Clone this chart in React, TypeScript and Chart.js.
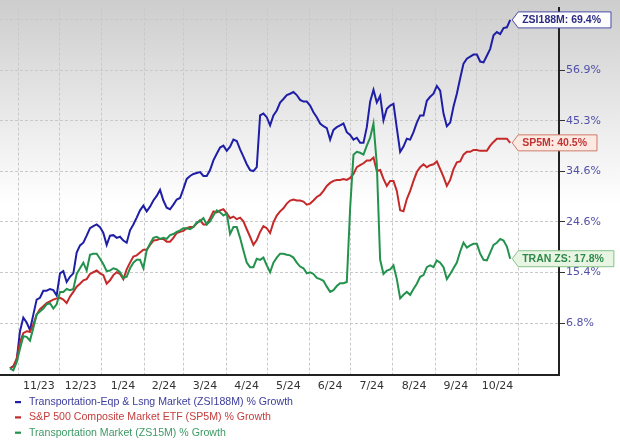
import { useEffect, useRef } from "react";
import { Chart, registerables } from "chart.js";

Chart.register(...registerables);

// % growth, sampled every STEP_DAYS days starting START_DAY days from Nov 1, 2023
const START_DAY = -6.2;
const STEP_DAYS = 2.44;

const zsi188m = [
  -0.3, 0.0, 0.9, 5.5, 7.7, 6.9, 5.7, 8.2, 10.7, 11.0,
  12.2, 12.2, 12.5, 12.3, 11.4, 15.2, 15.6, 13.7, 14.6, 15.2,
  18.9, 20.2, 20.7, 22.0, 23.4, 23.8, 24.1, 23.6, 22.5, 20.3,
  22.0, 22.1, 21.6, 21.8, 21.1, 20.7, 23.0, 24.1, 25.4, 26.8,
  27.7, 26.6, 27.5, 28.7, 29.6, 30.8, 28.7, 27.3, 27.0, 27.9,
  28.9, 29.2, 31.0, 33.0, 33.6, 34.0, 34.2, 34.4, 33.6, 33.6,
  34.8, 36.8, 38.2, 39.5, 39.9, 38.8, 39.7, 41.2, 40.9, 39.1,
  37.6, 36.0, 34.8, 34.6, 35.4, 46.5, 46.9, 46.1, 44.3, 46.5,
  47.6, 49.4, 50.2, 51.1, 51.4, 51.8, 51.1, 50.0, 49.6, 49.6,
  48.7, 47.2, 46.1, 44.7, 44.1, 43.7, 41.2, 43.3, 43.9, 44.3,
  44.7, 42.8, 42.2, 41.2, 41.6, 40.5, 40.5, 43.9, 49.6, 52.3,
  49.4, 50.9, 45.4, 48.0, 48.7, 49.1, 43.7, 38.6, 39.7, 41.4,
  41.2, 42.8, 44.9, 46.5, 46.5, 49.8, 50.7, 51.4, 53.2, 52.1,
  46.9, 44.1, 44.9, 48.5, 51.4, 55.0, 58.5, 59.7, 60.2, 60.7,
  60.7, 59.0, 58.8, 60.4, 62.1, 65.5, 66.3, 65.8, 67.3, 67.5,
  69.4,
];

const sp5m = [
  -0.3, 0.0, 1.2, 3.7, 5.2, 5.5, 5.4, 6.6, 8.2, 9.1,
  9.6, 10.1, 10.4, 10.7, 10.9, 11.0, 10.7, 10.1, 11.2, 12.0,
  12.9, 13.4, 14.0, 14.2, 15.1, 15.4, 15.7, 15.2, 14.9, 13.4,
  14.0, 14.9, 15.4, 15.1, 14.2, 15.9, 17.1, 18.2, 18.4, 18.9,
  19.4, 19.4, 20.3, 21.1, 21.2, 21.4, 21.4, 20.9, 20.9, 21.6,
  22.5, 22.7, 22.9, 23.4, 23.6, 23.6, 24.3, 24.9, 24.1, 24.1,
  25.3, 26.6, 26.4, 26.8, 27.0, 26.2, 25.3, 25.6, 25.1, 25.4,
  24.7, 23.2, 21.8, 20.3, 21.2, 22.7, 23.8, 23.4, 22.5, 24.5,
  25.8, 26.6, 27.2, 28.1, 28.7, 28.9, 28.7, 28.7, 28.5, 27.9,
  28.1, 28.7, 29.4, 29.8, 30.6, 31.6, 32.2, 32.6, 32.8, 32.8,
  33.0, 32.8, 33.2, 34.0, 35.4, 35.8, 36.2, 36.8, 36.8, 37.4,
  34.6, 34.8, 33.0, 31.6, 32.6, 32.6, 30.6, 26.8, 26.6, 29.0,
  30.6, 32.6, 34.4, 35.4, 36.0, 35.4, 35.8, 36.0, 36.6, 35.0,
  33.4, 31.6, 32.8, 35.0, 36.4, 36.6, 38.0, 38.6, 38.6, 39.0,
  39.0, 38.8, 38.8, 38.8, 39.9, 40.7, 41.4, 41.4, 41.4, 41.4,
  40.5,
];

const tranzs = [
  -0.3, -0.6, 0.6, 2.7, 4.7, 4.6, 4.0, 6.0, 8.2, 8.7,
  9.2, 9.9, 10.1, 9.2, 9.9, 12.0, 12.0, 12.5, 12.3, 12.5,
  15.1, 16.1, 17.1, 15.7, 18.5, 18.7, 18.7, 17.8, 16.8, 15.6,
  15.7, 16.1, 15.9, 15.4, 14.4, 14.6, 16.1, 17.1, 17.6, 17.6,
  16.1, 19.3, 20.5, 21.6, 21.8, 21.4, 21.6, 21.4, 22.1, 22.3,
  22.7, 23.0, 23.4, 23.4, 23.2, 23.6, 24.5, 24.7, 25.3, 24.1,
  24.7, 25.8, 26.8, 26.4, 25.8, 26.2, 22.3, 23.6, 23.6, 21.6,
  19.3, 17.1, 16.3, 16.3, 17.8, 17.6, 18.0, 16.6, 15.4, 17.1,
  18.0, 18.7, 18.7, 18.5, 18.4, 18.0, 17.1, 16.4, 16.1, 15.2,
  15.4, 15.1, 14.4, 14.2, 13.9, 12.9, 12.0, 12.3, 13.0, 13.5,
  13.5, 13.7, 27.2, 38.0, 38.6, 38.4, 38.0, 39.9, 41.6, 44.7,
  36.0, 17.6, 15.1, 15.7, 15.9, 16.6, 14.2, 10.9, 11.5, 12.0,
  11.5, 12.5, 13.4, 14.6, 14.9, 16.3, 16.6, 16.3, 17.5, 17.1,
  16.3, 14.2, 15.1, 16.1, 17.1, 19.1, 20.7, 19.8, 20.2, 20.5,
  20.5, 18.7, 17.6, 17.5, 18.9, 20.3, 20.7, 21.4, 21.1, 20.0,
  17.8,
];

// days from Nov 1, 2023 at each month start (grid lines)
const monthStartDays = [0, 30, 61, 92, 121, 152, 182, 213, 243, 274, 305, 335, 366];
const monthLabels = ["11/23", "12/23", "1/24", "2/24", "3/24", "4/24", "5/24", "6/24", "7/24", "8/24", "9/24", "10/24"];
const yTickValues = [6.8, 15.4, 24.6, 34.6, 45.3, 56.9, 69.4];

const legendLabels = [
  "Transportation-Eqp & Lsng Market (ZSI188M) % Growth",
  "S&P 500 Composite Market ETF (SP5M) % Growth",
  "Transportation Market (ZS15M) % Growth",
];
const endLabels = ["ZSI188M: 69.4%", "SP5M: 40.5%", "TRAN ZS: 17.8%"];

const lineColors = ["#1e1ea6", "#c42a2a", "#23924c"];
const legendTextColors = ["#3c3c9c", "#c43c3c", "#3c9a64"];
const boxFill = ["#fdfdfd", "#fbe9e2", "#e8f5e2"];
const boxStroke = ["#4a4aa8", "#d07a6a", "#86c28a"];
const boxText = ["#2c2c84", "#c03434", "#2e8a4a"];

export default function App() {
  const ref = useRef<HTMLCanvasElement>(null);

  useEffect(() => {
    const canvas = ref.current;
    if (!canvas) return;
    const days = zsi188m.map((_, i) => START_DAY + i * STEP_DAYS);
    const pts = (arr: number[]) => arr.map((v, i) => ({ x: days[i], y: 100 + v }));
    const midMonths = monthStartDays.slice(0, -1).map((d, i) => (d + monthStartDays[i + 1]) / 2);

    const bgPlugin = {
      id: "bg",
      beforeDraw(chart: any) {
        const { ctx, width, height } = chart;
        const g = ctx.createLinearGradient(0, 0, 0, height);
        g.addColorStop(0, "#cdcdcd");
        g.addColorStop(0.46, "#ffffff");
        g.addColorStop(1, "#ffffff");
        ctx.save();
        ctx.fillStyle = g;
        ctx.fillRect(0, 0, width, height);
        ctx.restore();
      },
    };

    const endLabelPlugin = {
      id: "endLabels",
      afterDatasetsDraw(chart: any) {
        const ctx = chart.ctx;
        ctx.save();
        ctx.font = 'bold 10.5px "Liberation Sans", Arial, sans-serif';
        ctx.textBaseline = "middle";
        ctx.textAlign = "left";
        chart.data.datasets.forEach((_: any, di: number) => {
          const meta = chart.getDatasetMeta(di);
          const pt = meta.data[meta.data.length - 1];
          const tip = pt.x + 2;
          const cy = pt.y;
          const tw = ctx.measureText(endLabels[di]).width;
          const h = 16;
          const left = tip + 6;
          const right = left + 4 + tw + 10;
          ctx.beginPath();
          ctx.moveTo(tip, cy);
          ctx.lineTo(left, cy - h / 2);
          ctx.lineTo(right, cy - h / 2);
          ctx.lineTo(right, cy + h / 2);
          ctx.lineTo(left, cy + h / 2);
          ctx.closePath();
          ctx.fillStyle = boxFill[di];
          ctx.fill();
          ctx.lineWidth = 1;
          ctx.strokeStyle = boxStroke[di];
          ctx.stroke();
          ctx.fillStyle = boxText[di];
          ctx.fillText(endLabels[di], left + 4, cy + 0.5);
        });
        ctx.restore();
      },
    };

    const legendPlugin = {
      id: "customLegend",
      afterDraw(chart: any) {
        const ctx = chart.ctx;
        ctx.save();
        ctx.font = '10.6px "Liberation Sans", Arial, sans-serif';
        ctx.textBaseline = "middle";
        ctx.textAlign = "left";
        const baseY = chart.chartArea.bottom + 27;
        legendLabels.forEach((t, i) => {
          const y = baseY + i * 15.3;
          ctx.fillStyle = lineColors[i];
          ctx.fillRect(15, y - 1, 6, 2.2);
          ctx.fillStyle = legendTextColors[i];
          ctx.fillText(t, 29, y);
        });
        ctx.restore();
      },
    };

    const chart = new Chart(canvas, {
      type: "line",
      data: {
        datasets: [
          { label: legendLabels[0], data: pts(zsi188m), borderColor: lineColors[0], order: 3 },
          { label: legendLabels[1], data: pts(sp5m), borderColor: lineColors[1], order: 2 },
          { label: legendLabels[2], data: pts(tranzs), borderColor: lineColors[2], order: 1 },
        ].map((d) => ({ ...d, borderWidth: 2, pointRadius: 0, tension: 0, fill: false })),
      },
      options: {
        animation: false,
        responsive: true,
        maintainAspectRatio: false,
        events: [],
        layout: { padding: 0 },
        plugins: { legend: { display: false }, tooltip: { enabled: false } },
        scales: {
          x: {
            type: "linear",
            position: "bottom",
            min: -13.5,
            max: 395.5,
            afterBuildTicks: (s: any) => {
              s.ticks = monthStartDays.map((v) => ({ value: v }));
            },
            afterFit: (s: any) => {
              s.height = 0;
            },
            ticks: { display: false },
            grid: { display: true, color: "#c9c9c9", lineWidth: 1, drawTicks: false },
            border: { display: true, color: "#222222", width: 2, dash: [3, 2] },
          },
          xl: {
            type: "linear",
            position: "bottom",
            min: -13.5,
            max: 395.5,
            afterBuildTicks: (s: any) => {
              s.ticks = midMonths.map((v) => ({ value: v }));
            },
            afterFit: (s: any) => {
              s.height = 71;
            },
            grid: { display: false, drawTicks: false },
            border: { display: false },
            ticks: {
              autoSkip: false,
              maxRotation: 0,
              padding: 5,
              color: "#333333",
              font: { family: '"DejaVu Sans", Verdana, sans-serif', size: 11 },
              callback: (_v: any, i: number) => monthLabels[i],
            },
          },
          y: {
            type: "logarithmic",
            position: "right",
            min: 98.7,
            max: 172.6,
            bounds: "data",
            afterBuildTicks: (s: any) => {
              s.ticks = yTickValues.map((v) => ({ value: 100 + v }));
            },
            afterFit: (s: any) => {
              s.width = 61;
            },
            grid: {
              color: "#c9c9c9",
              lineWidth: 1,
              drawTicks: true,
              tickLength: 6,
              tickColor: "#333333",
              tickWidth: 1,
              tickBorderDash: [],
            },
            border: { display: true, color: "#222222", width: 2, dash: [3, 2] },
            ticks: {
              padding: 1,
              color: "#5050a8",
              font: { family: '"DejaVu Sans", Verdana, sans-serif', size: 11 },
              callback: (_v: any, i: number) =>
                i === yTickValues.length - 1 ? "" : yTickValues[i].toFixed(1) + "%",
            },
          },
        },
      } as any,
      plugins: [bgPlugin, endLabelPlugin, legendPlugin],
    });

    return () => chart.destroy();
  }, []);

  return (
    <div style={{ position: "absolute", left: 0, top: 0, width: 620, height: 446 }}>
      <canvas ref={ref} />
    </div>
  );
}
